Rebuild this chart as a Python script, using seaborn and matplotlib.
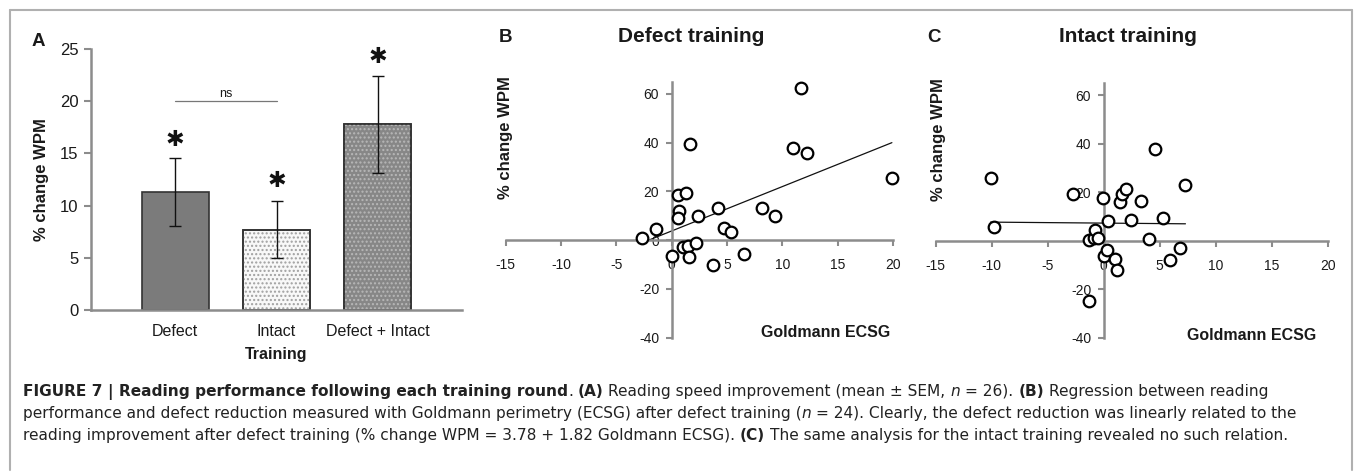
import matplotlib
matplotlib.use("Agg")
import matplotlib.pyplot as plt
import seaborn as sns
import pandas as pd
import numpy as np
from matplotlib.patches import Rectangle
from matplotlib.lines import Line2D

# Panel A: reading speed change per training round (mean +- SEM)
groups = ["Defect", "Intact", "Defect + Intact"]
mean_change = [11.3, 7.7, 17.8]
sem_change = [3.3, 2.75, 4.65]
star_y = [16.3, 12.4, 24.2]
ns_y = 20.0

# Panel B: defect training
defect_ecsg = [-2.7, -1.4, 0.05, 0.55, 1.3, 0.65, 0.6, 1.7, 1.05, 1.45, 1.55, 2.2,
               2.4, 3.7, 4.2, 4.7, 5.4, 6.5, 8.2, 9.3, 11.0, 11.7, 12.2, 19.9]
defect_wpm = [1.0, 4.4, -6.6, 18.7, 19.3, 11.8, 8.9, 39.3, -2.7, -2.3, -7.0, -1.2,
              10.0, -10.1, 13.0, 4.9, 3.2, -5.5, 13.2, 10.0, 38.0, 62.6, 35.8, 25.5]
defect_fit = (3.78, 1.82)   # intercept, slope (from caption)

# Panel C: intact training
intact_ecsg = [-10.1, -9.8, -2.7, -1.3, -1.3, -0.9, -0.8, -0.55, -0.1, 0.0, 0.25, 0.4,
               1.0, 1.2, 1.45, 1.65, 1.95, 2.45, 3.35, 4.05, 4.6, 5.3, 5.9, 6.8, 7.3]
intact_wpm = [26.0, 5.6, 19.5, -24.7, 0.5, 1.0, 4.5, 1.2, 17.7, -6.4, -3.6, 8.3,
              -7.5, -11.9, 15.9, 19.3, 21.4, 8.5, 16.6, 0.8, 37.8, 9.4, -7.8, -3.0, 23.2]
intact_fit = (7.3, -0.04)

W, H = 1355, 475
sns.set_style("white")
plt.rcParams["font.family"] = ["Liberation Sans", "DejaVu Sans"]
plt.rcParams["axes.unicode_minus"] = False

AX = "#8c8c8c"
TXT = "#1a1a1a"

fig = plt.figure(figsize=(W / 100, H / 100), dpi=100)


def fx(x):
    return x / W


def fy(y):
    return 1 - y / H


def add_axes_px(x0, x1, ytop, ybot):
    return fig.add_axes([fx(x0), fy(ybot), (x1 - x0) / W, (ybot - ytop) / H])


# ---------------- Panel A ----------------
axA = add_axes_px(91, 462, 49, 310)
dfA = pd.DataFrame({"group": groups, "change": mean_change})
sns.barplot(data=dfA, x="group", y="change", hue="group",
            palette=["#7b7b7b", "#f8f8f8", "#878787"], width=0.66,
            edgecolor="#333333", linewidth=1.2, legend=False, ax=axA)
hatch_cols = [None, "#a0a0a0", "#b8b8b8"]
for p, hc in zip(list(axA.patches), hatch_cols):
    if hc:
        axA.add_patch(Rectangle(p.get_xy(), p.get_width(), p.get_height(),
                                fill=False, hatch="....", edgecolor=hc, lw=0, zorder=p.get_zorder() + 0.1))
        axA.add_patch(Rectangle(p.get_xy(), p.get_width(), p.get_height(),
                                fill=False, edgecolor="#333333", lw=1.2, zorder=p.get_zorder() + 0.2))
pos = np.arange(len(groups))
axA.errorbar(pos, mean_change, yerr=sem_change, fmt="none", ecolor="#111111",
             elinewidth=1.0, capsize=4, capthick=1.0, zorder=5)
for i, sy in enumerate(star_y):
    axA.text(pos[i], sy, "\u2731", ha="center", va="center", fontsize=16,
             family="DejaVu Sans", color="#111111")
axA.plot([pos[0], pos[1]], [ns_y, ns_y], color="#777777", lw=0.9)
axA.text((pos[0] + pos[1]) / 2, ns_y + 0.15, "ns", ha="center", va="bottom", fontsize=9, color=TXT)
axA.set_xlim(-0.83, 2.83)
axA.set_ylim(0, 25)
axA.set_yticks([0, 5, 10, 15, 20, 25])
axA.tick_params(axis="y", labelsize=12, length=5, width=1.5, color=AX, direction="out",
                pad=4, labelcolor=TXT, left=True)
axA.tick_params(axis="x", labelsize=11.5, length=0, pad=10, labelcolor=TXT)
for s in ["top", "right"]:
    axA.spines[s].set_visible(False)
for s in ["left", "bottom"]:
    axA.spines[s].set_color(AX)
    axA.spines[s].set_linewidth(1.8)
axA.set_xlabel("Training", fontsize=11.5, fontweight="bold", color=TXT, labelpad=6)
axA.set_ylabel("% change WPM", fontsize=12, fontweight="bold", color=TXT, labelpad=8)
fig.text(fx(38), fy(42), "A", fontsize=13.5, fontweight="bold", ha="center", va="center", color=TXT)


# ---------------- Panels B, C ----------------
def scatter_panel(ax, xs, ys, fit, title, letter, title_x, letter_x, xlab_pos, ylab_pos):
    df = pd.DataFrame({"ecsg": xs, "wpm": ys})
    lx = np.array([min(xs), max(xs)])
    ax.plot(lx, fit[0] + fit[1] * lx, color="#111111", lw=0.9, zorder=2)
    sns.scatterplot(data=df, x="ecsg", y="wpm", ax=ax, s=70, facecolor="white",
                    edgecolor="black", linewidth=1.6, zorder=3, clip_on=False)
    ax.set_xlim(-15, 20)
    ax.set_ylim(-40, 65)
    ax.set_xticks([-15, -10, -5, 0, 5, 10, 15, 20])
    ax.set_yticks([-40, -20, 0, 20, 40, 60])
    ax.spines["left"].set_position(("data", 0))
    ax.spines["bottom"].set_position(("data", 0))
    for s in ["top", "right"]:
        ax.spines[s].set_visible(False)
    for s in ["left", "bottom"]:
        ax.spines[s].set_color(AX)
        ax.spines[s].set_linewidth(1.8)
    ax.tick_params(axis="both", labelsize=10, length=4, width=1.5, color=AX,
                   direction="out", labelcolor=TXT, left=True, bottom=True)
    ax.tick_params(axis="x", pad=9)
    ax.tick_params(axis="y", pad=5)
    ax.set_xlabel("")
    ax.set_ylabel("")
    ax.text(xlab_pos[0], xlab_pos[1], "Goldmann ECSG", transform=ax.transAxes, ha="right",
            va="center", fontsize=11.5, fontweight="bold", color=TXT)
    ax.text(ylab_pos[0], ylab_pos[1], "% change WPM", transform=ax.transAxes, rotation=90,
            ha="center", va="center", fontsize=12, fontweight="bold", color=TXT)
    fig.text(fx(title_x), fy(37), title, fontsize=15, fontweight="bold", ha="center",
             va="center", color=TXT)
    fig.text(fx(letter_x), fy(38), letter, fontsize=13.5, fontweight="bold", ha="center",
             va="center", color=TXT)


axB = add_axes_px(505.7, 893, 81.7, 337.7)
scatter_panel(axB, defect_ecsg, defect_wpm, defect_fit, "Defect training", "B",
              691, 505.7, (0.992, 0.022), (0.0, 0.78))
axC = add_axes_px(935.7, 1327.7, 83.3, 337.7)
scatter_panel(axC, intact_ecsg, intact_wpm, intact_fit, "Intact training", "C",
              1127.7, 934, (0.972, 0.008), (0.006, 0.777))

# frame lines
frame_col = "#b0b0b0"
fig.add_artist(Line2D([fx(10), fx(1352)], [fy(10), fy(10)], color=frame_col, lw=1.5))
fig.add_artist(Line2D([fx(10), fx(10)], [fy(10), fy(470)], color=frame_col, lw=1.5))
fig.add_artist(Line2D([fx(1352), fx(1352)], [fy(10), fy(470)], color=frame_col, lw=1.5))

# ---------------- Caption ----------------
cap_size = 11.1
cap_font = "DejaVu Sans"
caption_lines = [
    [("FIGURE 7 | Reading performance following each training round", "b", False),
     (".", "n", False), ("(A)", "b", True),
     ("Reading speed improvement (mean \u00b1 SEM,", "n", True), ("n", "i", True),
     ("= 26).", "n", True), ("(B)", "b", True), ("Regression between reading", "n", True)],
    [("performance and defect reduction measured with Goldmann perimetry (ECSG) after defect training (", "n", False),
     ("n", "i", False), ("= 24). Clearly, the defect reduction was linearly related to the", "n", True)],
    [("reading improvement after defect training (% change WPM = 3.78 + 1.82 Goldmann ECSG).", "n", False),
     ("(C)", "b", True), ("The same analysis for the intact training revealed no such relation.", "n", True)],
]
baselines = [396, 418, 440]
renderer = fig.canvas.get_renderer()
t1 = fig.text(0, 0, "a a", fontsize=cap_size, family=cap_font)
t2 = fig.text(0, 0, "aa", fontsize=cap_size, family=cap_font)
space_w = t1.get_window_extent(renderer).width - t2.get_window_extent(renderer).width
t1.remove()
t2.remove()
for line, yb in zip(caption_lines, baselines):
    x = 23.0
    for text, style, gap in line:
        if gap:
            x += space_w
        t = fig.text(fx(x), fy(yb), text, fontsize=cap_size, va="baseline", ha="left",
                     color="#222222", family=cap_font,
                     fontweight="bold" if style == "b" else "normal",
                     fontstyle="italic" if style == "i" else "normal")
        x += t.get_window_extent(renderer).width

fig.savefig("out.png", dpi=100)
